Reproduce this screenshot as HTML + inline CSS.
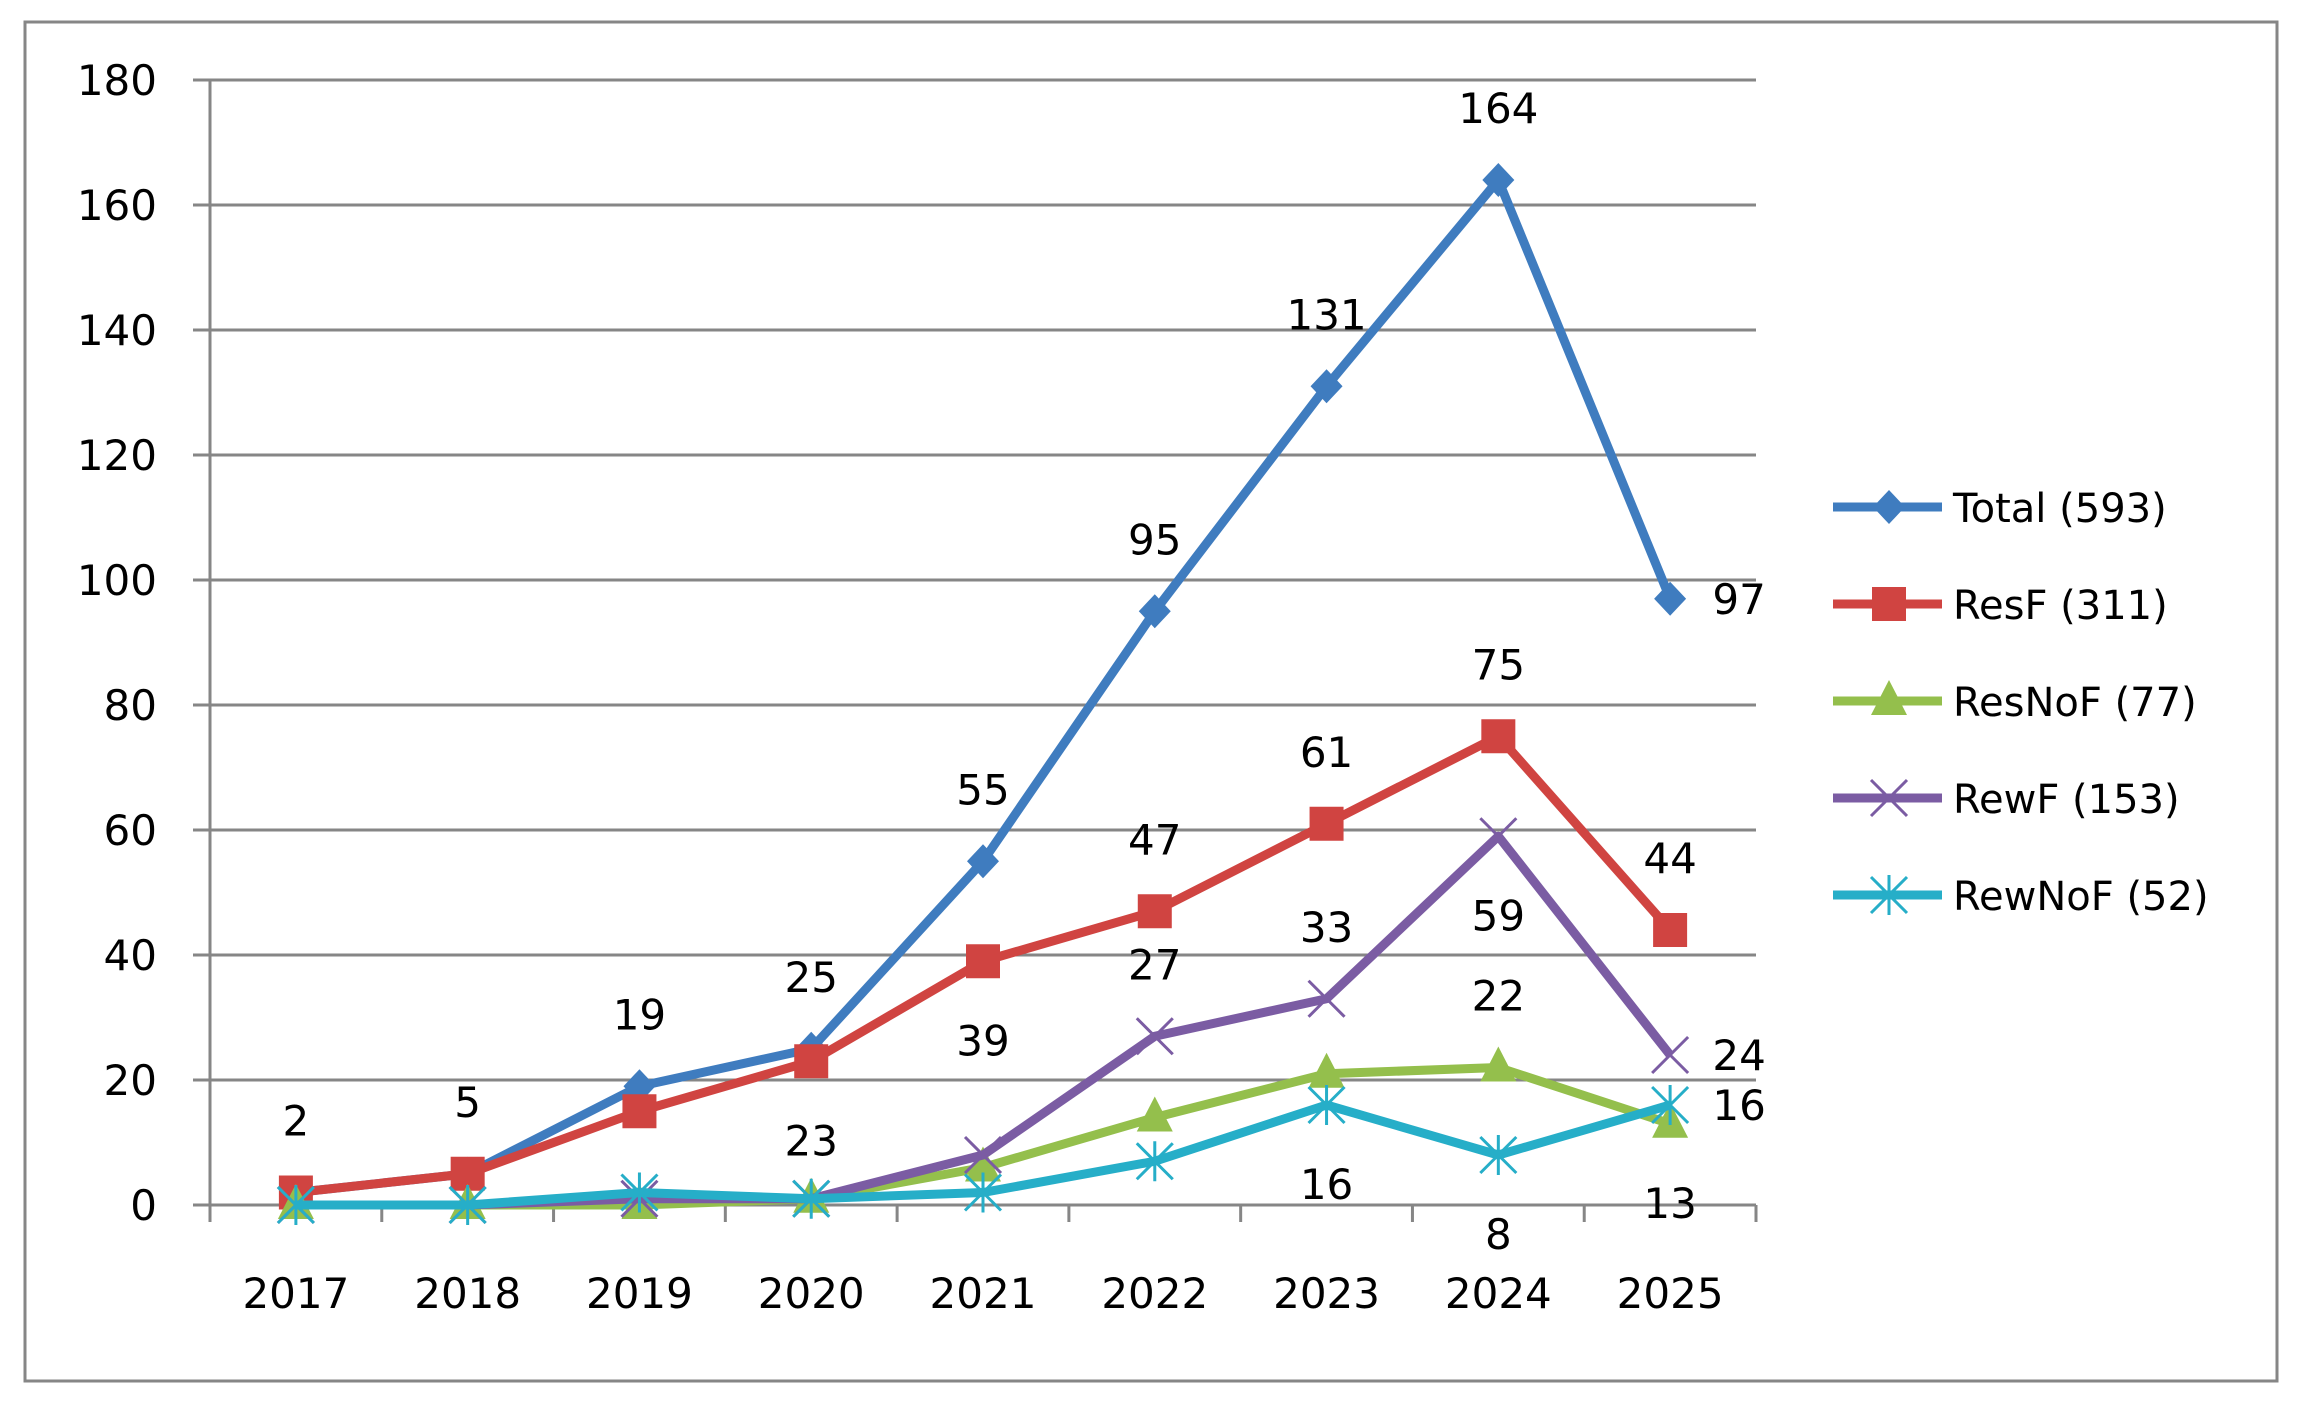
<!DOCTYPE html>
<html><head><meta charset="utf-8"><style>
html,body{margin:0;padding:0;background:#fff;}
svg{display:block;}
text{font-family:"DejaVu Sans","Liberation Sans",sans-serif;fill:#000;}
</style></head><body>
<svg id="chart" width="2300" height="1404" viewBox="0 0 2300 1404" xmlns="http://www.w3.org/2000/svg">
<rect x="25" y="22" width="2252" height="1359" fill="#fff" stroke="#868686" stroke-width="3"/>
<g id="grid"></g>
<g id="axes"></g>
<g id="series"></g>
<g id="labels"></g>
<g id="legend"></g>
</svg>
<script>
const categories = ["2017","2018","2019","2020","2021","2022","2023","2024","2025"];
const yTicks = [0,20,40,60,80,100,120,140,160,180];
const seriesNames = ["Total (593)","ResF (311)","ResNoF (77)","RewF (153)","RewNoF (52)"];
const totalValues = [2,5,19,25,55,95,131,164,97];
const resFValues = [2,5,15,23,39,47,61,75,44];
const resNoFValues = [0,0,0,1,6,14,21,22,13];
const rewFValues = [0,0,1,1,8,27,33,59,24];
const rewNoFValues = [0,0,2,1,2,7,16,8,16];
const totalLabelPos = ["a","a","a","a","a","a","a","a","r"];
const resFLabelPos = ["","","","b","b","a","a","a","a"];
const resNoFLabelPos = ["","","","","","","","a","b"];
const rewFLabelPos = ["","","","","","a","a","b","r"];
const rewNoFLabelPos = ["","","","","","","b","b","r"];

const NS="http://www.w3.org/2000/svg";
const X0=210,X1=1756,Y0=1205,YTOP=80,YMAX=180;
const band=(X1-X0)/categories.length;
const xs=i=>X0+band*(i+0.5);
const ys=v=>Y0-(v/YMAX)*(Y0-YTOP);
function mk(tag,attrs,parent){const e=document.createElementNS(NS,tag);for(const k in attrs)e.setAttribute(k,attrs[k]);parent.appendChild(e);return e;}
const grid=document.getElementById('grid'),axes=document.getElementById('axes'),sg=document.getElementById('series'),lg=document.getElementById('labels'),leg=document.getElementById('legend');
const gray="#868686";
yTicks.forEach(t=>{
  const y=ys(t);
  if(t>0){const l=mk('line',{x1:X0,x2:X1,y1:y,y2:y,stroke:gray,'stroke-width':3},grid);
    
    }
  const tk=mk('line',{x1:193,x2:X0,y1:y,y2:y,stroke:gray,'stroke-width':3},axes);
  
  
  const tx=mk('text',{x:157,y:y+15,'text-anchor':'end','font-size':42},axes);
  tx.textContent=t;
  
  
});
const ya=mk('line',{x1:X0,x2:X0,y1:YTOP,y2:Y0+17,stroke:gray,'stroke-width':3},axes);


const xa=mk('line',{x1:193,x2:X1,y1:Y0,y2:Y0,stroke:gray,'stroke-width':3},axes);


for(let i=0;i<=categories.length;i++){
  const x=X0+band*i;
  const t=mk('line',{x1:x,x2:x,y1:Y0,y2:Y0+17,stroke:gray,'stroke-width':3},axes);
  
  
}
categories.forEach((c,i)=>{
  const t=mk('text',{x:xs(i),y:1308,'text-anchor':'middle','font-size':42},axes);
  t.textContent=c;
  
  
});
function marker(type,x,y,color,parent){
  let e;
  if(type==='diamond'){e=mk('polygon',{points:`${x},${y-17} ${x+16},${y} ${x},${y+17} ${x-16},${y}`,fill:color},parent);}
  else if(type==='square'){e=mk('rect',{x:x-17,y:y-17,width:34,height:34,fill:color},parent);}
  else if(type==='triangle'){e=mk('polygon',{points:`${x},${y-21} ${x+18},${y+14} ${x-18},${y+14}`,fill:color},parent);}
  else if(type==='x'){e=mk('path',{d:`M${x-18},${y-18}L${x+18},${y+18}M${x-18},${y+18}L${x+18},${y-18}`,stroke:color,'stroke-width':3,fill:'none'},parent);}
  else {e=mk('path',{d:`M${x-18},${y-18}L${x+18},${y+18}M${x-18},${y+18}L${x+18},${y-18}M${x},${y-20}L${x},${y+20}`,stroke:color,'stroke-width':3,fill:'none'},parent);}
  return e;
}
const S=[
  {key:'total',vals:totalValues,pos:totalLabelPos,color:'#3f7cbf',m:'diamond'},
  {key:'resf',vals:resFValues,pos:resFLabelPos,color:'#d04441',m:'square'},
  {key:'resnof',vals:resNoFValues,pos:resNoFLabelPos,color:'#94bf4c',m:'triangle'},
  {key:'rewf',vals:rewFValues,pos:rewFLabelPos,color:'#7b5ca3',m:'x'},
  {key:'rewnof',vals:rewNoFValues,pos:rewNoFLabelPos,color:'#26aec8',m:'star'}
];
S.forEach((s,si)=>{
  const g=mk('g',{},sg);
  
  
  const pts=s.vals.map((v,i)=>xs(i)+','+ys(v)).join(' ');
  const pl=mk('polyline',{points:pts,fill:'none',stroke:s.color,'stroke-width':9,'stroke-linejoin':'round'},g);
  
  
  s.vals.forEach((v,i)=>{
    const m=marker(s.m,xs(i),ys(v),s.color,g);
    
    
    const p=s.pos[i];
    if(p){
      let x=xs(i),y=ys(v);
      if(p==='a')y-=72;else if(p==='b')y+=79;else x+=69;
      const t=mk('text',{x:x,y:y+15,'text-anchor':'middle','font-size':42},lg);
      t.textContent=v;
      
      
    }
  });
  const ly=507+si*97;
  const lgi=mk('g',{},leg);
  
  
  mk('line',{x1:1833,x2:1942,y1:ly,y2:ly,stroke:s.color,'stroke-width':9},lgi);
  marker(s.m,1889,ly,s.color,lgi);
  const lt=mk('text',{x:1953,y:ly+15,'font-size':40},lgi);
  lt.textContent=seriesNames[si];
});
</script>
</body></html>
